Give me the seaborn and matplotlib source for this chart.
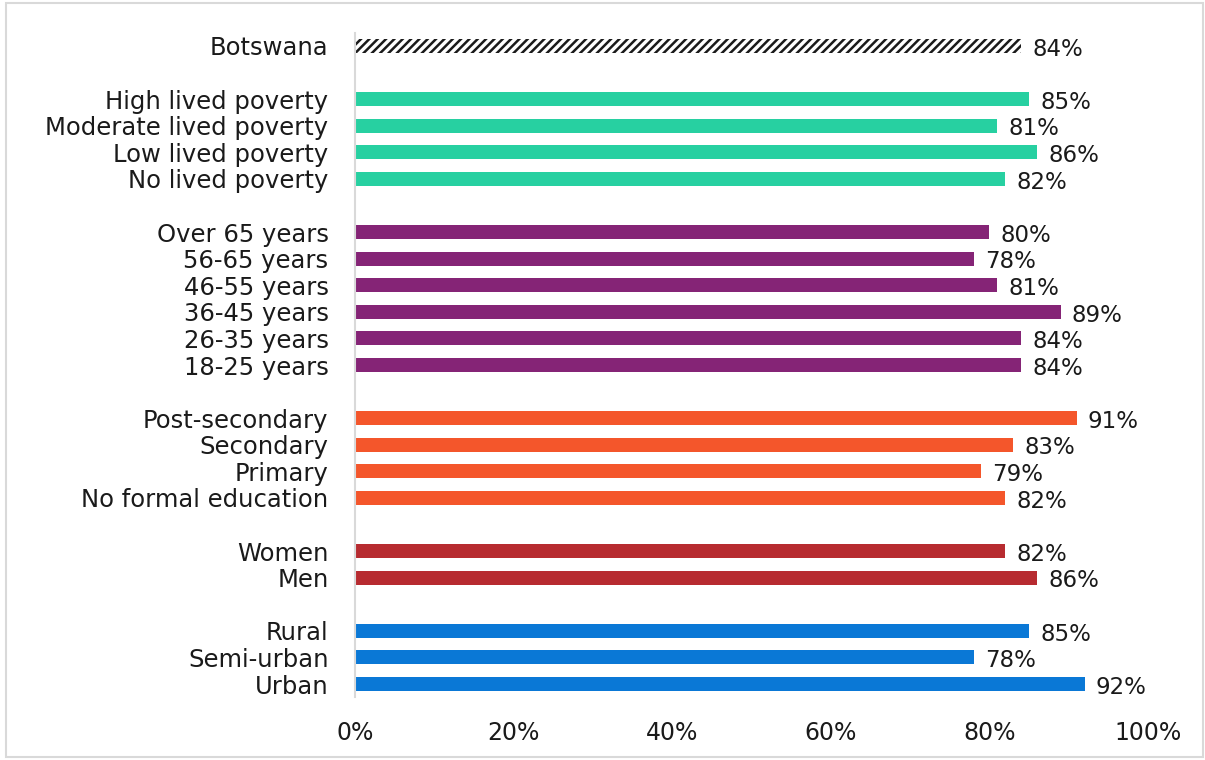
import matplotlib
matplotlib.use("Agg")
import matplotlib.pyplot as plt
import seaborn as sns
import pandas as pd

# Share of respondents (%) by group
national_labels = ["Botswana"]
national_values = [84]

poverty_labels = ["High lived poverty", "Moderate lived poverty", "Low lived poverty", "No lived poverty"]
poverty_values = [85, 81, 86, 82]

age_labels = ["Over 65 years", "56-65 years", "46-55 years", "36-45 years", "26-35 years", "18-25 years"]
age_values = [80, 78, 81, 89, 84, 84]

education_labels = ["Post-secondary", "Secondary", "Primary", "No formal education"]
education_values = [91, 83, 79, 82]

gender_labels = ["Women", "Men"]
gender_values = [82, 86]

location_labels = ["Rural", "Semi-urban", "Urban"]
location_values = [85, 78, 92]

tick_values = [0, 20, 40, 60, 80, 100]

groups = [
    ("national", national_labels, national_values, "#FFFFFF"),
    ("poverty", poverty_labels, poverty_values, "#27D0A1"),
    ("age", age_labels, age_values, "#852476"),
    ("education", education_labels, education_values, "#F4562B"),
    ("gender", gender_labels, gender_values, "#B72B30"),
    ("location", location_labels, location_values, "#0A78D6"),
]

rows = []
order = []
palette = {}
for i, (name, labels, values, color) in enumerate(groups):
    if i > 0:
        order.append(" " * i)  # empty spacer row between groups
    palette[name] = color
    for lab, val in zip(labels, values):
        rows.append({"label": lab, "value": val, "group": name})
        order.append(lab)
df = pd.DataFrame(rows)

sns.set_theme(style="white")
plt.rcParams["font.family"] = ["DejaVu Sans"]
plt.rcParams["hatch.linewidth"] = 1.8

fig = plt.figure(figsize=(12.05, 7.6), dpi=100)
ax = fig.add_axes([355 / 1205, 1 - 697.3 / 760, (1148 - 355) / 1205, (697.3 - 32.7) / 760])

sns.barplot(data=df, x="value", y="label", hue="group", order=order,
            palette=palette, dodge=False, width=0.53, orient="h",
            saturation=1, legend=False, ax=ax, linewidth=0)

# Hatched national bar
pos = {lab: k for k, lab in enumerate(order)}
for patch in ax.patches:
    y_c = patch.get_y() + patch.get_height() / 2
    if abs(y_c - pos["Botswana"]) < 0.01 and patch.get_width() > 0:
        patch.set_facecolor("white")
        patch.set_edgecolor("#1a1a1a")
        patch.set_hatch("////")
        patch.set_linewidth(0)

# Value labels
for _, r in df.iterrows():
    ax.text(r["value"] + 1.4, pos[r["label"]] + 0.12, f"{r['value']}%",
            va="center", ha="left", fontsize=16.5, color="#1a1a1a")

ax.set_xlim(0, 100)
ax.set_ylim(len(order) - 0.5, -0.5)
ax.set_xticks(tick_values)
ax.set_xticklabels([f"{t}%" for t in tick_values], fontsize=17, color="#1a1a1a")
ax.set_yticks(range(len(order)))
ax.set_yticklabels([lab if lab.strip() else "" for lab in order], fontsize=17.5, color="#1a1a1a")
ax.tick_params(axis="y", length=0, pad=19)
ax.tick_params(axis="x", length=0, pad=17)
ax.set_xlabel("")
ax.set_ylabel("")
for side in ["top", "right", "bottom"]:
    ax.spines[side].set_visible(False)
ax.spines["left"].set_color("#D9D9D9")
ax.spines["left"].set_linewidth(1.5)

# Light frame round the whole figure
fig.patches.append(plt.Rectangle((6 / 1205, 1 - 757 / 760), 1197 / 1205, 754 / 760,
                                 transform=fig.transFigure, fill=False,
                                 edgecolor="#D9D9D9", linewidth=1.5))

fig.savefig("out.png", dpi=100)
